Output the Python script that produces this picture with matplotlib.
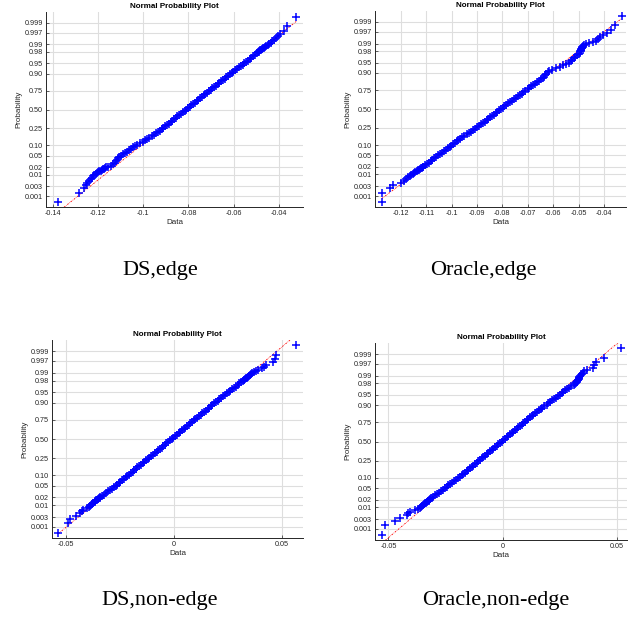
import numpy as np
import matplotlib
matplotlib.use("Agg")
import matplotlib.pyplot as plt
from statistics import NormalDist

# --- data: sorted sample values at selected ranks (n = 1000 per panel) ---
N = 1000
ranks = np.array(
    list(range(1, 21))
    + [21, 23, 26, 29, 33, 36, 41, 45, 50, 55,
       61, 67, 74, 81, 89, 97, 106, 116, 126, 136,
       147, 159, 172, 185, 198, 212, 227, 242, 258, 275,
       292, 309, 327, 345, 364, 383, 402, 421, 441, 461,
       481]
    + [500]
    + [520, 540, 560, 580, 599, 618, 637, 656, 674, 692,
       709, 726, 743, 759, 774, 789, 803, 816, 829, 842,
       854, 865, 875, 885, 895, 904, 912, 920, 927, 934,
       940, 946, 951, 956, 960, 965, 968, 972, 975, 978,
       980]
    + list(range(981, 1001)))

ds_edge = np.array([
    -0.1378, -0.1285, -0.1261, -0.1252, -0.1246, -0.1237, -0.1231, -0.1225, -0.1220, -0.1215,
    -0.1210, -0.1205, -0.1199, -0.1193, -0.1188, -0.1183, -0.1178, -0.1173, -0.1168, -0.1164,
    -0.1155, -0.1140, -0.1132, -0.1126, -0.1121, -0.1116, -0.1111, -0.1105, -0.1098, -0.1090,
    -0.1080, -0.1071, -0.1063, -0.1055, -0.1046, -0.1036, -0.1025, -0.1013, -0.1002, -0.0992,
    -0.0982, -0.0972, -0.0962, -0.0953, -0.0944, -0.0935, -0.0926, -0.0918, -0.0911, -0.0902,
    -0.0894, -0.0886, -0.0879, -0.0872, -0.0864, -0.0857, -0.0849, -0.0841, -0.0833, -0.0825,
    -0.0817,
    -0.0810,
    -0.0802, -0.0795, -0.0787, -0.0779, -0.0771, -0.0764, -0.0756, -0.0748, -0.0741, -0.0733,
    -0.0725, -0.0717, -0.0709, -0.0702, -0.0694, -0.0686, -0.0678, -0.0671, -0.0663, -0.0655,
    -0.0647, -0.0640, -0.0633, -0.0625, -0.0617, -0.0609, -0.0601, -0.0593, -0.0585, -0.0577,
    -0.0569, -0.0561, -0.0554, -0.0546, -0.0539, -0.0530, -0.0524, -0.0515, -0.0507, -0.0499,
    -0.0493,
    -0.0490, -0.0487, -0.0483, -0.0479, -0.0475, -0.0471, -0.0466, -0.0461, -0.0456, -0.0450,
    -0.0445, -0.0437, -0.0430, -0.0421, -0.0413, -0.0405, -0.0395, -0.0380, -0.0365, -0.0324])

oracle_edge = np.array([
    -0.1275, -0.1275, -0.1242, -0.1230, -0.1198, -0.1188, -0.1180, -0.1172, -0.1166, -0.1160,
    -0.1154, -0.1148, -0.1143, -0.1138, -0.1133, -0.1128, -0.1124, -0.1120, -0.1116, -0.1113,
    -0.1112, -0.1106, -0.1098, -0.1090, -0.1082, -0.1076, -0.1068, -0.1061, -0.1054, -0.1047,
    -0.1039, -0.1031, -0.1023, -0.1015, -0.1008, -0.1001, -0.0994, -0.0987, -0.0980, -0.0973,
    -0.0966, -0.0958, -0.0950, -0.0941, -0.0933, -0.0925, -0.0917, -0.0909, -0.0901, -0.0893,
    -0.0885, -0.0877, -0.0869, -0.0862, -0.0855, -0.0848, -0.0841, -0.0834, -0.0827, -0.0820,
    -0.0813,
    -0.0806,
    -0.0799, -0.0792, -0.0785, -0.0777, -0.0770, -0.0762, -0.0755, -0.0747, -0.0740, -0.0732,
    -0.0724, -0.0717, -0.0709, -0.0701, -0.0694, -0.0686, -0.0679, -0.0671, -0.0664, -0.0656,
    -0.0649, -0.0642, -0.0636, -0.0632, -0.0627, -0.0622, -0.0617, -0.0605, -0.0589, -0.0573,
    -0.0560, -0.0548, -0.0537, -0.0530, -0.0525, -0.0517, -0.0512, -0.0505, -0.0500, -0.0496,
    -0.0493,
    -0.0492, -0.0491, -0.0490, -0.0489, -0.0488, -0.0487, -0.0485, -0.0483, -0.0478, -0.0469,
    -0.0458, -0.0444, -0.0432, -0.0423, -0.0414, -0.0402, -0.0387, -0.0374, -0.0356, -0.0330])

ds_nonedge = np.array([
    -0.0535, -0.0492, -0.0482, -0.0452, -0.0436, -0.0426, -0.0420, -0.0402, -0.0396, -0.0390,
    -0.0384, -0.0378, -0.0373, -0.0368, -0.0364, -0.0360, -0.0356, -0.0352, -0.0349, -0.0345,
    -0.0341, -0.0334, -0.0324, -0.0316, -0.0305, -0.0297, -0.0287, -0.0279, -0.0271, -0.0263,
    -0.0255, -0.0248, -0.0240, -0.0232, -0.0224, -0.0216, -0.0208, -0.0200, -0.0192, -0.0185,
    -0.0178, -0.0170, -0.0161, -0.0153, -0.0145, -0.0137, -0.0129, -0.0121, -0.0114, -0.0105,
    -0.0097, -0.0089, -0.0081, -0.0073, -0.0065, -0.0057, -0.0050, -0.0043, -0.0035, -0.0027,
    -0.0019,
    -0.0011,
    -0.0003, 0.0005, 0.0013, 0.0021, 0.0028, 0.0036, 0.0044, 0.0052, 0.0060, 0.0068,
    0.0075, 0.0083, 0.0092, 0.0099, 0.0107, 0.0115, 0.0123, 0.0130, 0.0138, 0.0147,
    0.0155, 0.0162, 0.0170, 0.0178, 0.0186, 0.0194, 0.0202, 0.0210, 0.0218, 0.0226,
    0.0234, 0.0244, 0.0253, 0.0261, 0.0269, 0.0279, 0.0286, 0.0295, 0.0303, 0.0312,
    0.0319,
    0.0323, 0.0326, 0.0330, 0.0334, 0.0338, 0.0342, 0.0347, 0.0352, 0.0357, 0.0363,
    0.0369, 0.0378, 0.0390, 0.0405, 0.0418, 0.0428, 0.0458, 0.0466, 0.0471, 0.0566])

oracle_nonedge = np.array([
    -0.0528, -0.0514, -0.0470, -0.0448, -0.0420, -0.0416, -0.0405, -0.0382, -0.0370, -0.0362,
    -0.0357, -0.0352, -0.0347, -0.0343, -0.0339, -0.0335, -0.0332, -0.0328, -0.0325, -0.0322,
    -0.0319, -0.0313, -0.0304, -0.0296, -0.0287, -0.0280, -0.0270, -0.0263, -0.0254, -0.0246,
    -0.0238, -0.0230, -0.0221, -0.0213, -0.0205, -0.0197, -0.0189, -0.0180, -0.0172, -0.0165,
    -0.0158, -0.0151, -0.0143, -0.0136, -0.0129, -0.0122, -0.0114, -0.0107, -0.0100, -0.0092,
    -0.0085, -0.0078, -0.0070, -0.0063, -0.0056, -0.0048, -0.0041, -0.0034, -0.0027, -0.0019,
    -0.0012,
    -0.0005,
    0.0002, 0.0009, 0.0017, 0.0024, 0.0031, 0.0038, 0.0046, 0.0053, 0.0060, 0.0068,
    0.0075, 0.0082, 0.0090, 0.0097, 0.0104, 0.0112, 0.0119, 0.0126, 0.0133, 0.0141,
    0.0149, 0.0157, 0.0165, 0.0173, 0.0182, 0.0191, 0.0199, 0.0207, 0.0215, 0.0224,
    0.0232, 0.0240, 0.0248, 0.0257, 0.0264, 0.0274, 0.0281, 0.0290, 0.0298, 0.0310,
    0.0316,
    0.0319, 0.0321, 0.0323, 0.0325, 0.0327, 0.0329, 0.0331, 0.0333, 0.0335, 0.0338,
    0.0341, 0.0345, 0.0350, 0.0357, 0.0368, 0.0394, 0.0400, 0.0406, 0.0441, 0.0518])

captions = ["DS,edge", "Oracle,edge", "DS,non-edge", "Oracle,non-edge"]

prob_ticks = [0.001, 0.003, 0.01, 0.02, 0.05, 0.10, 0.25, 0.50, 0.75, 0.90,
              0.95, 0.98, 0.99, 0.997, 0.999]
prob_labels = ["0.001", "0.003", "0.01", "0.02", "0.05", "0.10", "0.25",
               "0.50", "0.75", "0.90", "0.95", "0.98", "0.99", "0.997", "0.999"]

xticks_edge_ds = [-0.14, -0.12, -0.10, -0.08, -0.06, -0.04]
xlabels_edge_ds = ["-0.14", "-0.12", "-0.1", "-0.08", "-0.06", "-0.04"]
xticks_edge_or = [-0.12, -0.11, -0.10, -0.09, -0.08, -0.07, -0.06, -0.05, -0.04]
xlabels_edge_or = ["-0.12", "-0.11", "-0.1", "-0.09", "-0.08", "-0.07",
                   "-0.06", "-0.05", "-0.04"]
xticks_nonedge = [-0.05, 0.0, 0.05]
xlabels_nonedge = ["-0.05", "0", "0.05"]


# --- normal probability scale ---
_nd = NormalDist()


def _inv(p):
    if not np.isfinite(p):
        return np.nan
    return _nd.inv_cdf(min(max(p, 1e-15), 1 - 1e-15))


_ppf = np.vectorize(_inv, otypes=[float])
_cdf = np.vectorize(_nd.cdf, otypes=[float])


def prob_forward(p):
    return _ppf(np.asarray(p, dtype=float))


def prob_inverse(z):
    return _cdf(np.asarray(z, dtype=float))


DARK = "#262626"
plt.rcParams["font.family"] = ["Liberation Sans", "DejaVu Sans"]

fig = plt.figure(figsize=(6.41, 6.17), dpi=100)

W, H = 641.0, 617.0
# (left, right, top, bottom) in pixels
boxes = [(46, 303, 12, 207), (375, 626, 11, 207),
         (52, 303, 340, 538), (375, 627, 343, 540)]
panels = [
    (ds_edge, xticks_edge_ds, xlabels_edge_ds, (-0.1429, -0.0294)),
    (oracle_edge, xticks_edge_or, xlabels_edge_or, (-0.1302, -0.0313)),
    (ds_nonedge, xticks_nonedge, xlabels_nonedge, (-0.0565, 0.0597)),
    (oracle_nonedge, xticks_nonedge, xlabels_nonedge, (-0.0559, 0.0543)),
]
cap_pos = [(160, 270), (483, 270), (160, 601), (496, 601)]

p = (ranks - 0.5) / N
z25, z75 = _nd.inv_cdf(0.25), _nd.inv_cdf(0.75)

for (l, r, t, b), (vals, xt, xl, xlim), cap, (cx, cy) in zip(
        boxes, panels, captions, cap_pos):
    ax = fig.add_axes([l / W, 1 - b / H, (r - l) / W, (b - t) / H])
    ax.set_yscale("function", functions=(prob_forward, prob_inverse))

    ax.plot(vals, p, linestyle="none", marker="+", color="#0000ff",
            ms=5.4, mew=1.1, zorder=3)

    # reference line through the quartiles, extended to the data range
    q1, q3 = np.interp([0.25, 0.75], p, vals)
    slope = (z75 - z25) / (q3 - q1)
    xs = np.array([vals.min(), vals.max()])
    zs = z25 + slope * (xs - q1)
    ax.plot(xs, prob_inverse(zs), color="r", lw=0.6,
            linestyle=(0, (2, 1.2, 0.6, 1.2)), zorder=2)
    ax.plot([q1, q3], [0.25, 0.75], color="r", lw=0.6, zorder=2)

    ax.set_ylim(0.00025, 0.99975)
    ax.set_xlim(*xlim)
    ax.set_yticks(prob_ticks)
    ax.set_yticklabels(prob_labels)
    ax.set_xticks(xt)
    ax.set_xticklabels(xl)
    ax.minorticks_off()

    ax.grid(True, color="#dedede", lw=0.8)
    ax.set_axisbelow(True)
    for side in ("top", "right"):
        ax.spines[side].set_visible(False)
    for side in ("left", "bottom"):
        ax.spines[side].set_color(DARK)
        ax.spines[side].set_linewidth(0.7)
    ax.tick_params(labelsize=5.2, colors=DARK, length=2, width=0.5,
                   direction="in", pad=2)

    ax.set_title("Normal Probability Plot", fontsize=5.8, fontweight="bold",
                 color="black", pad=3)
    ax.set_xlabel("Data", fontsize=5.8, color=DARK, labelpad=1.5)
    ax.set_ylabel("Probability", fontsize=5.8, color=DARK, labelpad=2)

    fig.text(cx / W, 1 - cy / H, cap, ha="center", va="center",
             fontsize=16, family="Liberation Serif")

fig.savefig("out.png", dpi=100)
